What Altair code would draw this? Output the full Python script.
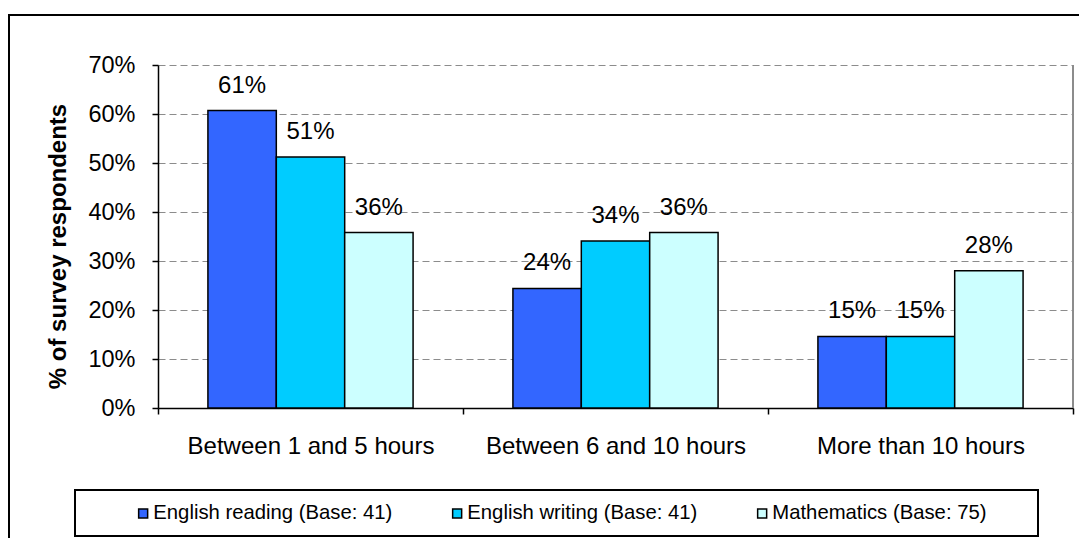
import altair as alt
import pandas as pd

categories = ["Between 1 and 5 hours", "Between 6 and 10 hours", "More than 10 hours"]
series = ["English reading (Base: 41)", "English writing (Base: 41)", "Mathematics (Base: 75)"]
reading = [0.607, 0.244, 0.146]
writing = [0.512, 0.341, 0.146]
maths = [0.358, 0.358, 0.280]
colors = ["#3366FF", "#00CCFF", "#CCFFFF"]
y_ticks = [0, 0.1, 0.2, 0.3, 0.4, 0.5, 0.6, 0.7]

rows = []
for s, vals in zip(series, [reading, writing, maths]):
    for c, v in zip(categories, vals):
        rows.append({"category": c, "series": s, "value": v})
df = pd.DataFrame(rows)

FONT = "Liberation Sans"
W, H = 915, 343

x_enc = alt.X("category:N", sort=categories,
              scale=alt.Scale(paddingInner=0, paddingOuter=0),
              axis=alt.Axis(title=None, labelAngle=0, tickBand="extent",
                            tickSize=6, labelPadding=20, labelFontSize=24,
                            labelLimit=1000,
                            labelColor="black", domainColor="black",
                            tickColor="black", domainWidth=1.5, tickWidth=1.5))
xoff = alt.XOffset("series:N", sort=series,
                   scale=alt.Scale(paddingOuter=0.73, paddingInner=0))
y_enc = alt.Y("value:Q", scale=alt.Scale(domain=[0, 0.7]),
              axis=alt.Axis(values=y_ticks, format=".0%",
                            title="% of survey respondents",
                            titleFontSize=24, titleFontWeight="bold",
                            titleColor="black", titlePadding=17,
                            titleY=181,
                            labelFontSize=23.5, labelColor="black",
                            labelPadding=17, tickSize=6,
                            tickColor="black", domainColor="black",
                            domainWidth=1.5, tickWidth=1.5,
                            grid=True, gridColor="#8c8c8c",
                            gridDash=[7, 4], gridWidth=1.2))

base = alt.Chart(df)

bars = base.mark_bar(stroke="black", strokeWidth=1.5).encode(
    x=x_enc, xOffset=xoff, y=y_enc,
    color=alt.Color("series:N", sort=series,
                    scale=alt.Scale(domain=series, range=colors),
                    legend=alt.Legend(title=None, orient="none",
                                      direction="horizontal",
                                      legendX=-25, legendY=438,
                                      symbolType="square", symbolSize=81,
                                      symbolStrokeColor="black",
                                      symbolStrokeWidth=1.5,
                                      labelFontSize=20.3, labelColor="black",
                                      labelFont=FONT, labelOffset=0,
                                      columnPadding=54, padding=0,
                                      labelLimit=400)),
)

labels = base.mark_text(baseline="alphabetic", dy=-18, fontSize=24,
                        font=FONT, color="black").encode(
    x=alt.X("category:N", sort=categories), xOffset=xoff,
    y=alt.Y("value:Q"),
    text=alt.Text("value:Q", format=".0%"),
)

right_border = alt.Chart(df).mark_rule(color="#8c8c8c", strokeWidth=1.5).encode(
    x=alt.value(W), y=alt.value(0), y2=alt.value(H))

legend_box = alt.Chart(df).mark_rect(fill=None, fillOpacity=0, stroke="black",
                                     strokeWidth=2).encode(
    x=alt.value(-83), x2=alt.value(880), y=alt.value(425), y2=alt.value(471))

frame = alt.Chart(df).mark_rect(fill=None, fillOpacity=0, stroke="black",
                                strokeWidth=1.5).encode(
    x=alt.value(-149), x2=alt.value(960), y=alt.value(-50), y2=alt.value(600))

chart = alt.layer(frame, legend_box, right_border, bars, labels).properties(
    width=W, height=H,
    autosize=alt.AutoSizeParams(type="none"),
    padding={"left": 150, "top": 57, "right": 6, "bottom": 130},
).configure_view(stroke=None).configure_axis(
    labelFont=FONT, titleFont=FONT
).configure_text(font=FONT)

chart.save("out.html", embed_options={"renderer": "svg", "actions": False})
